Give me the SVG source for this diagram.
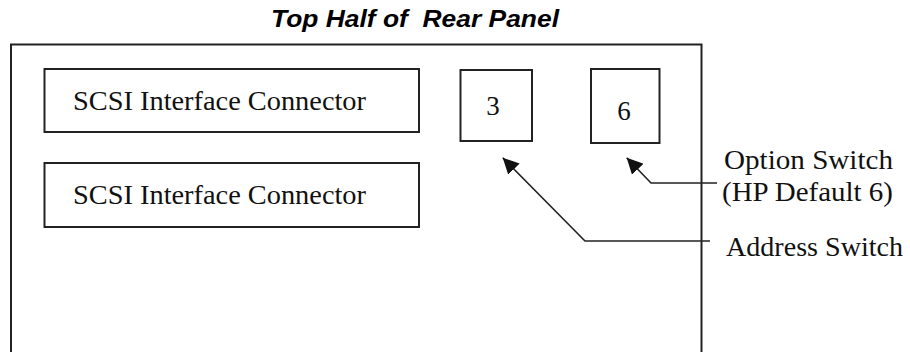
<svg xmlns="http://www.w3.org/2000/svg" width="910" height="352" viewBox="0 0 910 352">
<style>
.box{fill:none;stroke:#222;stroke-width:2}
.ln{fill:none;stroke:#222;stroke-width:1.6}
.lbl{font-family:"Liberation Serif","DejaVu Serif",serif;font-size:27px;fill:#111}
.title{font-family:"Liberation Sans",Arial,sans-serif;font-size:23px;font-weight:bold;font-style:italic;fill:#000;white-space:pre}
</style>
<defs>
<marker id="ah" viewBox="0 0 10 10" refX="10" refY="5" markerWidth="16" markerHeight="16" markerUnits="userSpaceOnUse" orient="auto">
<path d="M0,0 L10,5 L0,10 z" fill="#111"/>
</marker>
</defs>
<text class="title" x="271" y="27" xml:space="preserve" textLength="288" lengthAdjust="spacingAndGlyphs">Top Half of  Rear Panel</text>
<g id="panel"><rect class="box" x="11" y="44.5" width="690.5" height="330"/></g>
<g id="scsi1"><rect class="box" x="44.5" y="69" width="374.5" height="63"/><text class="lbl" x="73" y="110" textLength="293" lengthAdjust="spacingAndGlyphs">SCSI Interface Connector</text></g>
<g id="scsi2"><rect class="box" x="44.5" y="163" width="374.5" height="64"/><text class="lbl" x="73" y="204" textLength="293" lengthAdjust="spacingAndGlyphs">SCSI Interface Connector</text></g>
<g id="addr"><rect class="box" x="460.5" y="70" width="71.5" height="71"/><text class="lbl" x="493" y="115" text-anchor="middle">3</text></g>
<g id="opt"><rect class="box" x="591" y="69" width="68.5" height="74"/><text class="lbl" x="624" y="120" text-anchor="middle">6</text></g>
<g id="connectors">
<polyline class="ln" points="710,241 585,241 502.7,157.7" marker-end="url(#ah)"/>
<polyline class="ln" points="717,183 651,183 626.7,157.7" marker-end="url(#ah)"/>
</g>
<g id="labels">
<text class="lbl" x="724" y="169" textLength="169" lengthAdjust="spacingAndGlyphs">Option Switch</text>
<text class="lbl" x="722" y="201" textLength="171" lengthAdjust="spacingAndGlyphs">(HP Default 6)</text>
<text class="lbl" x="726" y="256" textLength="177" lengthAdjust="spacingAndGlyphs">Address Switch</text>
</g>
</svg>
